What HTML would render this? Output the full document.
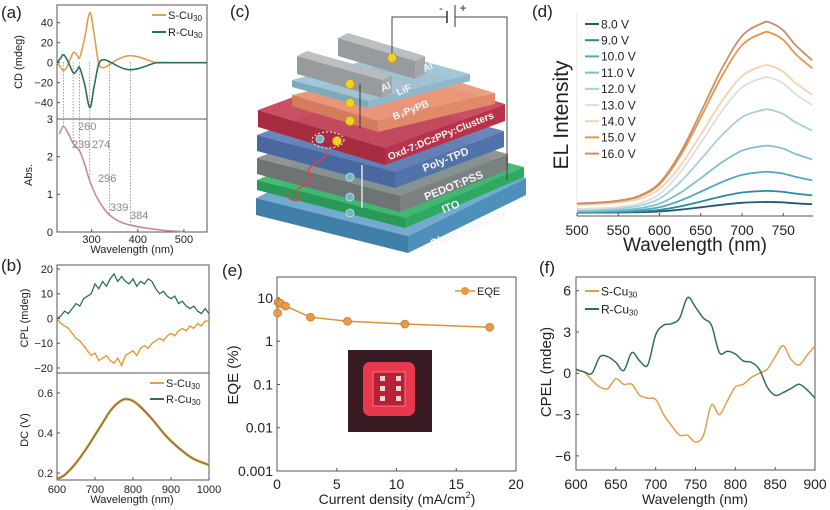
<!DOCTYPE html>
<html><head><meta charset="utf-8"><style>
html,body{margin:0;padding:0;background:#fff}
svg{display:block;font-family:"Liberation Sans",sans-serif}
</style></head><body>
<svg id="fig" width="830" height="510" viewBox="0 0 830 510" xmlns="http://www.w3.org/2000/svg">
<rect width="830" height="510" fill="#fff"/>
<g id="pc"></g>
<g id="pa"></g>
<g id="pb"></g>
<g id="pd"></g>
<g id="pe"></g>
<g id="pf"></g>
</svg>
<script>
// ---- data ----
const cdWl=[225,232,239,248,260,268,274,285,296,305,315,325,339,355,370,384,400,420,440,460,500,550];
const cdS=[0,-4,-8,-3,10,8,5,25,50,30,0,-5,-2,3,6,7,6,3,0,0,0,0];
const cdR=[0,4,8,2,-10,-8,-5,-22,-45,-25,-2,3,1,-3,-6,-7,-6,-3,0,0,0,0];
const absWl=[230,239,250,260,274,285,296,310,325,339,360,384,420,460,500];
const absV=[2.6,2.8,2.6,2.35,2.15,1.8,1.35,0.95,0.65,0.45,0.28,0.18,0.1,0.04,0.01];
const peakWl=[239,260,274,296,339,384];
const cplWl=[600,610,620,630,640,650,660,670,680,690,700,710,720,730,740,750,760,770,780,790,800,810,820,830,840,850,860,870,880,890,900,910,920,930,940,950,960,970,980,990,1000];
const cplR=[0,1,3,2,4,6,5,8,9,10,14,12,15,13,16,18,15,17,15,14,16,13,15,14,16,15,12,10,11,9,8,9,6,7,5,4,5,3,2,4,2];
const cplS=[0,-2,-3,-4,-6,-8,-9,-11,-13,-15,-14,-17,-16,-15,-17,-18,-16,-19,-15,-14,-13,-15,-12,-11,-12,-10,-9,-8,-9,-7,-6,-7,-5,-4,-5,-3,-4,-2,-3,-1,-1];
const dcWl=[600,620,650,680,700,720,740,760,780,800,820,850,880,900,930,960,1000];
const dcV=[0.17,0.19,0.25,0.33,0.39,0.45,0.51,0.55,0.57,0.56,0.53,0.47,0.40,0.36,0.31,0.27,0.24];
const elWl=[500,525,550,575,600,625,650,675,700,725,735,750,765,785];
const elShape=[0.03,0.035,0.045,0.07,0.14,0.3,0.52,0.75,0.93,1.0,1.0,0.96,0.88,0.8];
const elVolt=["8.0 V","9.0 V","10.0 V","11.0 V","12.0 V","13.0 V","14.0 V","15.0 V","16.0 V"];
const elPeak=[11,22,41,67,103,135,143,176,186];
const eqeX=[0.05,0.1,0.3,0.7,2.8,5.9,10.7,17.8];
const eqeY=[4.5,8,7.5,6.5,3.6,2.9,2.5,2.1];
const cpelWl=[600,610,620,630,640,650,660,670,680,690,700,710,720,730,740,750,760,770,780,790,800,810,820,830,840,850,860,870,880,890,900];
const cpelR=[0.3,0.1,0.0,1.2,1.2,0.8,0.2,1.5,0.9,0.6,2.8,3.5,3.6,4.0,5.5,4.8,4.0,3.5,1.5,1.6,1.4,0.9,0.8,0.3,-1.0,-1.6,-1.4,-1.1,-0.8,-1.2,-1.8];
const cpelS=[0.2,0.1,-0.5,-1.0,-1.1,-0.4,-0.8,-0.8,-1.6,-1.8,-1.9,-3.0,-3.8,-4.5,-4.5,-5.0,-4.5,-2.3,-3.0,-2.0,-1.0,-0.8,-0.3,0.0,0.3,1.2,2.0,1.0,0.6,1.3,2.0];

const NS="http://www.w3.org/2000/svg";
function el(tag,attrs,parent){const e=document.createElementNS(NS,tag);for(const k in attrs)e.setAttribute(k,attrs[k]);parent.appendChild(e);return e;}
function lin(d0,d1,r0,r1){return v=>r0+(v-d0)*(r1-r0)/(d1-d0);}
function txt(p,x,y,s,size,anchor,extra){const t=el('text',Object.assign({x:x,y:y,'font-size':size,'text-anchor':anchor||'middle',fill:'#222'},extra||{}),p);t.textContent=s;return t;}
function path(xs,ys,sx,sy){return xs.map((v,i)=>(i?'L':'M')+sx(v).toFixed(1)+','+sy(ys[i]).toFixed(1)).join('');}
function smooth(xs,ys,sx,sy){const P=xs.map((v,i)=>[sx(v),sy(ys[i])]);let d='M'+P[0][0].toFixed(1)+','+P[0][1].toFixed(1);
 for(let i=0;i<P.length-1;i++){const p0=P[i-1]||P[i],p1=P[i],p2=P[i+1],p3=P[i+2]||P[i+1];
 d+='C'+(p1[0]+(p2[0]-p0[0])/6).toFixed(1)+','+(p1[1]+(p2[1]-p0[1])/6).toFixed(1)+' '+(p2[0]-(p3[0]-p1[0])/6).toFixed(1)+','+(p2[1]-(p3[1]-p1[1])/6).toFixed(1)+' '+p2[0].toFixed(1)+','+p2[1].toFixed(1);}
 return d;}
function frame(p,x0,y0,x1,y1,name){const r=el('rect',{x:x0,y:y0,width:x1-x0,height:y1-y0,fill:'none',stroke:'#555','stroke-width':1},p);}
function ytick(p,y,x0,lab,size,xl){el('line',{x1:x0,y1:y,x2:x0+3,y2:y,stroke:'#555'},p);if(lab!==null){const t=txt(p,xl,y+size*0.35,lab,size,'end');}}
function xtick(p,x,y0,lab,size,yl){el('line',{x1:x,y1:y0,x2:x,y2:y0-3,stroke:'#555'},p);const t=txt(p,x,yl,lab,size);}
function legend(p,x,y,color,label,size,name){el('line',{x1:x,y1:y,x2:x+14,y2:y,stroke:color,'stroke-width':2},p);const t=el('text',{x:x+16,y:y+size*0.36,'font-size':size,fill:'#222'},p);t.innerHTML=label;}
function plabel(p,x,y,s){const t=txt(p,x,y,s,17,'start');}
const ORANGE='#dea04a',TEAL='#2f6f5f';

// ---- panel a ----
(function(){const p=document.getElementById('pa');
const x0=57,x1=207;const sx=lin(225,550,x0,x1);
const syc=lin(0,40,62.7,22.7), sya=lin(0,3,232,119);
frame(p,x0,5,x1,119,'cd-plot-frame');frame(p,x0,119,x1,232,'abs-plot-frame');
peakWl.forEach((w,i)=>{const k=cdWl.indexOf(w);let yc=k>=0?Math.max(syc(cdS[k]),syc(cdR[k])):62;const ai=absWl.indexOf(w);const ya=ai>=0?sya(absV[ai]):200;
 const l=el('line',{x1:sx(w),y1:Math.min(yc,62),x2:sx(w),y2:ya,stroke:'#888','stroke-width':0.8,'stroke-dasharray':'1.5,1.5'},p);});
const s=el('path',{d:smooth(cdWl,cdS,sx,syc),fill:'none',stroke:ORANGE,'stroke-width':1.6},p);
const r=el('path',{d:smooth(cdWl,cdR,sx,syc),fill:'none',stroke:TEAL,'stroke-width':1.6},p);
const a=el('path',{d:smooth(absWl,absV,sx,sya),fill:'none',stroke:'#c98a94','stroke-width':1.6},p);
[40,20,0,-20,-40].forEach(v=>ytick(p,syc(v),x0,String(v).replace('-','−'),11,53));
[0,1,2,3].forEach(v=>ytick(p,sya(v),x0,String(v),11,53));
[300,400,500].forEach(v=>xtick(p,sx(v),232,String(v),11,243));
const pl=[[239,72,148],[260,78,130],[274,92,148],[296,98,182],[339,110,211],[384,130,219]];
pl.forEach(q=>{const t=txt(p,q[1],q[2],String(q[0]),11,'start',{fill:'#888'});});
const yt=txt(p,0,0,'CD (mdeg)',11,'middle',{transform:'translate(22,62) rotate(-90)'});
const yt2=txt(p,0,0,'Abs.',11,'middle',{transform:'translate(32,175) rotate(-90)'});
const xt=txt(p,132,253,'Wavelength (nm)',11);
legend(p,152,15,ORANGE,'S-Cu<tspan font-size="8" dy="2">30</tspan>',11,'legend-s-cu30');
legend(p,152,32,TEAL,'R-Cu<tspan font-size="8" dy="2">30</tspan>',11,'legend-r-cu30');
plabel(p,1,18,'(a)');
})();

// ---- panel b ----
(function(){const p=document.getElementById('pb');
const x0=57,x1=209;const sx=lin(600,1000,x0,x1);
const syc=lin(-20,20,368,269), syd=lin(0.2,0.6,473,393);
frame(p,x0,265,x1,373,'cpl-plot-frame');frame(p,x0,373,x1,480,'dc-plot-frame');
const r=el('path',{d:path(cplWl,cplR,sx,syc),fill:'none',stroke:TEAL,'stroke-width':1.3},p);
const s=el('path',{d:path(cplWl,cplS,sx,syc),fill:'none',stroke:'#e8922e','stroke-width':1.3},p);
const d1=el('path',{d:smooth(dcWl,dcV,sx,syd),fill:'none',stroke:'#f0b860','stroke-width':3},p);
const d2=el('path',{d:smooth(dcWl,dcV,sx,syd),fill:'none',stroke:'#6d6a4a','stroke-width':1.2},p);
[20,10,0,-10,-20].forEach(v=>ytick(p,syc(v),x0,String(v).replace('-','−'),11,53));
[0.6,0.4,0.2].forEach(v=>ytick(p,syd(v),x0,v.toFixed(1),11,53));
[600,700,800,900,1000].forEach(v=>xtick(p,sx(v),480,String(v),11,493));
const yt=txt(p,0,0,'CPL (mdeg)',11,'middle',{transform:'translate(28,318) rotate(-90)'});
const yt2=txt(p,0,0,'DC (V)',11,'middle',{transform:'translate(28,430) rotate(-90)'});
const xt=txt(p,132,503,'Wavelength (nm)',11);
legend(p,150,383,ORANGE,'S-Cu<tspan font-size="8" dy="2">30</tspan>',11,'legend-s-cu30');
legend(p,150,399,TEAL,'R-Cu<tspan font-size="8" dy="2">30</tspan>',11,'legend-r-cu30');
plabel(p,1,271,'(b)');
})();

// ---- panel d ----
(function(){const p=document.getElementById('pd');
const x0=577,x1=813;const sx=lin(500,786,x0,x1);const sy=lin(0,204,216,12);
const cols=['#1f5a72','#2a8aa0','#4fa9be','#80bfcc','#a6cfd6','#dadfe0','#f3d2ae','#e8944a','#c8906a'];
elPeak.forEach((pk,i)=>{const ys=elShape.map(v=>v*pk+3+(i>=6?4:0));
 const l=el('path',{d:smooth(elWl,ys,sx,sy),fill:'none',stroke:cols[i],'stroke-width':1.8},p);});
el('line',{x1:x0,y1:216,x2:x1,y2:216,stroke:'#555'},p);
el('line',{x1:x0,y1:12,x2:x0,y2:216,stroke:'#ccc','stroke-width':0.5},p);
[500,550,600,650,700,750].forEach(v=>xtick(p,sx(v),216,String(v),14,235));
const yt=txt(p,0,0,'EL Intensity',21,'middle',{transform:'translate(568,115) rotate(-90)'});
const xt=txt(p,695,251,'Wavelength (nm)',19);
elVolt.forEach((v,i)=>legend(p,585,24+i*16.2,cols[i],v,12,'legend-entry'));
plabel(p,532,17,'(d)');
})();

// ---- panel e ----
(function(){const p=document.getElementById('pe');
const x0=277,x1=516;const sx=lin(0,20,x0,x1);const sy=v=>471-(Math.log10(v)+3)*43.25;
frame(p,x0,277,x1,471,'eqe-plot-frame');
const g=el('g',{},p);
el('rect',{x:348,y:350,width:84,height:82,fill:'#3a1a22'},g);
el('rect',{x:363,y:362,width:52,height:54,rx:7,fill:'#e8384e'},g);
el('rect',{x:373,y:372,width:32,height:34,fill:'#b82034',stroke:'#ff7080','stroke-width':1},g);
[[380,376],[396,376],[380,386],[396,386],[380,396],[396,396]].forEach(q=>el('rect',{x:q[0],y:q[1],width:5,height:5,fill:'#ffd0d8'},g));
const l=el('path',{d:path(eqeX,eqeY,sx,sy),fill:'none',stroke:'#e0903a','stroke-width':1.5},p);
eqeX.forEach((x,i)=>{const c=el('circle',{cx:sx(x),cy:sy(eqeY[i]),r:4,fill:'#e89a44',stroke:'#c07020','stroke-width':0.6},p);});
['0.001','0.01','0.1','1','10'].forEach(v=>ytick(p,sy(parseFloat(v)),x0,v,14,273));
[0,5,10,15,20].forEach(v=>xtick(p,sx(v),471,String(v),14,489));
const yt=txt(p,0,0,'EQE (%)',15,'middle',{transform:'translate(238,375) rotate(-90)'});
const xt=el('text',{x:397,y:504,'font-size':14,'text-anchor':'middle',fill:'#222'},p);xt.innerHTML='Current density (mA/cm<tspan font-size="9" dy="-6">2</tspan><tspan dy="6">)</tspan>';
el('line',{x1:455,y1:291,x2:475,y2:291,stroke:'#e0903a','stroke-width':1.5},p);el('circle',{cx:465,cy:291,r:4,fill:'#e89a44'},p);
const lt=txt(p,477,295,'EQE',11,'start');
plabel(p,222,276,'(e)');
})();

// ---- panel f ----
(function(){const p=document.getElementById('pf');
const x0=576,x1=815;const sx=lin(600,900,x0,x1);const sy=lin(0,6,373.3,290.7);
frame(p,x0,277,x1,470,'cpel-plot-frame');
const s=el('path',{d:smooth(cpelWl,cpelS,sx,sy),fill:'none',stroke:ORANGE,'stroke-width':1.5},p);
const r=el('path',{d:smooth(cpelWl,cpelR,sx,sy),fill:'none',stroke:TEAL,'stroke-width':1.5},p);
[6,3,0,-3,-6].forEach(v=>ytick(p,sy(v),x0,String(v).replace('-','−'),14,571));
[600,650,700,750,800,850,900].forEach(v=>xtick(p,sx(v),470,String(v),14,489));
const yt=txt(p,0,0,'CPEL (mdeg)',15,'middle',{transform:'translate(551,372) rotate(-90)'});
const xt=txt(p,695,504,'Wavelength (nm)',14);
legend(p,585,291,ORANGE,'S-Cu<tspan font-size="8" dy="2">30</tspan>',12,'legend-s-cu30');
legend(p,585,309,TEAL,'R-Cu<tspan font-size="8" dy="2">30</tspan>',12,'legend-r-cu30');
plabel(p,539,273,'(f)');
})();

// ---- panel c ----
(function(){const p=document.getElementById('pc');
function slab(L,F,R,t,top,left,right,name){const g=el('g',{},p);
 const B=[L[0]+R[0]-F[0],L[1]+R[1]-F[1]];
 el('polygon',{points:[L,F,[F[0],F[1]+t],[L[0],L[1]+t]].map(q=>q.join(',')).join(' '),fill:left},g);
 el('polygon',{points:[F,R,[R[0],R[1]+t],[F[0],F[1]+t]].map(q=>q.join(',')).join(' '),fill:right},g);
 el('polygon',{points:[L,F,R,B].map(q=>q.join(',')).join(' '),fill:top,opacity:0.95},g);return g;}
slab([256,198],[408,236],[526,178],17,'#6aa6cc','#3f7fa8','#4f90ba','glass-substrate-layer');
slab([257,180],[405,218],[524,167],10,'#3cb86c','#2a9856','#2fa860','ito-layer');
slab([257,158],[400,196],[508,154],16,'#8a8f90','#6e7374','#7b8081','pedot-pss-layer');
slab([257,135],[395,172],[504,131],16,'#6080b8','#4a68a0','#5272aa','poly-tpd-layer');
slab([258,110],[385,148],[505,104],17,'#c8465a','#a82c40','#b8334a','oxd-emitter-layer');
slab([292,95],[378,121],[495,93],11,'#ea9a7a','#d67c5e','#e08a6a','b3pypb-layer');
slab([292,80],[368,101],[470,74],7,'#9cc4d6','#7eaabd','#8fb8cc','lif-layer');
slab([297,56],[382,80],[392,75],18,'#b8bcbe','#979b9e','#a4a8aa','al-electrode-1');
slab([338,38],[415,61],[425,56],18,'#b8bcbe','#979b9e','#a4a8aa','al-electrode-2');
const w=el('path',{d:'M392,55 L392,17 L447,17 M455,17 L507,17 L507,180',fill:'none',stroke:'#444','stroke-width':1},p);
el('line',{x1:447,y1:11,x2:447,y2:23,stroke:'#333','stroke-width':1.5},p);el('line',{x1:455,y1:5,x2:455,y2:27,stroke:'#333','stroke-width':1},p);
txt(p,441,12,'-',11);txt(p,463,12,'+',12);
el('line',{x1:360,y1:84,x2:360,y2:128,stroke:'#333','stroke-width':1},p);
el('line',{x1:362,y1:208,x2:362,y2:165,stroke:'#d8e4f0','stroke-width':1.5},p);
[[350,84],[350,103],[350,121],[392,58],[337,141]].forEach(q=>{const c=el('circle',{cx:q[0],cy:q[1],r:4.5,fill:'#f2d02a',stroke:'#c8a010','stroke-width':0.8},p);});
[[320,139],[350,177],[350,197],[350,213]].forEach(q=>{const c=el('circle',{cx:q[0],cy:q[1],r:4,fill:'#6fb8c0',stroke:'#c8e4ea','stroke-width':0.8},p);});
el('ellipse',{cx:328,cy:140,rx:16,ry:8,fill:'none',stroke:'#eee','stroke-dasharray':'2,2'},p);
el('path',{d:'M325,150 C335,160 300,165 310,175 C320,185 290,185 298,195 C306,205 282,200 288,192',fill:'none',stroke:'#e04050','stroke-width':1.5},p);
const labs=[['Glass substrate',470,232,11],['ITO',452,210,11],['PEDOT:PSS',455,189,11],['Poly-TPD',447,163,11],['Oxd-7:DCzPPy:Clusters',442,139,10],['B\u2083PyPB',412,113,10],['LiF',405,93,10],['Al',387,90,10],['Al',429,70,10]];
labs.forEach(q=>{const t=txt(p,q[1],q[2],q[0],q[3],'middle',{fill:'#f4f4f4','font-weight':'bold',transform:'rotate(-22 '+q[1]+' '+q[2]+')'});});
plabel(p,230,17,'(c)');
})();
</script>
</body></html>
